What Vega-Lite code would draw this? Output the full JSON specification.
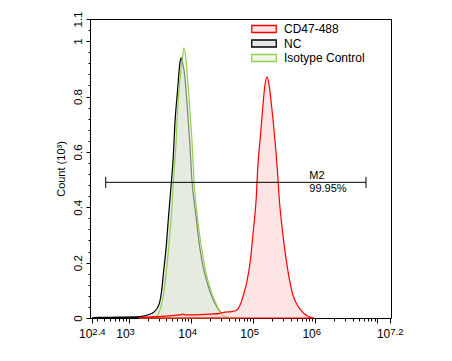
{
  "$schema": "https://vega.github.io/schema/vega-lite/v6.json",
  "width": 301,
  "height": 299,
  "autosize": "none",
  "padding": {"left": 90, "top": 19, "right": 61, "bottom": 43},
  "config": {
    "view": {"stroke": "#000000", "strokeWidth": 1},
    "font": "Liberation Sans",
    "axis": {"domain": false, "grid": false, "tickColor": "#000000", "labelColor": "#000000", "titleColor": "#000000", "labelFlush": false, "labelOverlap": false}
  },
  "datasets": {
    "hist": [
      {"s": "NC", "x": 260, "y": 0.001},
      {"s": "NC", "x": 325, "y": 0.002},
      {"s": "NC", "x": 687, "y": 0.003},
      {"s": "NC", "x": 1455, "y": 0.005},
      {"s": "NC", "x": 1986, "y": 0.011},
      {"s": "NC", "x": 2553, "y": 0.023},
      {"s": "NC", "x": 3076, "y": 0.053},
      {"s": "NC", "x": 3350, "y": 0.101},
      {"s": "NC", "x": 3573, "y": 0.161},
      {"s": "NC", "x": 3954, "y": 0.256},
      {"s": "NC", "x": 4355, "y": 0.377},
      {"s": "NC", "x": 4819, "y": 0.496},
      {"s": "NC", "x": 5140, "y": 0.58},
      {"s": "NC", "x": 5458, "y": 0.7},
      {"s": "NC", "x": 6026, "y": 0.82},
      {"s": "NC", "x": 6577, "y": 0.921},
      {"s": "NC", "x": 6934, "y": 0.94},
      {"s": "NC", "x": 7362, "y": 0.916},
      {"s": "NC", "x": 7834, "y": 0.88},
      {"s": "NC", "x": 8670, "y": 0.76},
      {"s": "NC", "x": 9462, "y": 0.64},
      {"s": "NC", "x": 10304, "y": 0.496},
      {"s": "NC", "x": 11830, "y": 0.377},
      {"s": "NC", "x": 13740, "y": 0.256},
      {"s": "NC", "x": 15560, "y": 0.185},
      {"s": "NC", "x": 17660, "y": 0.137},
      {"s": "NC", "x": 20510, "y": 0.089},
      {"s": "NC", "x": 24100, "y": 0.053},
      {"s": "NC", "x": 29040, "y": 0.023},
      {"s": "NC", "x": 35070, "y": 0.005},
      {"s": "NC", "x": 45600, "y": 0},
      {"s": "Isotype Control", "x": 1455, "y": 0},
      {"s": "Isotype Control", "x": 2113, "y": 0.002},
      {"s": "Isotype Control", "x": 2716, "y": 0.005},
      {"s": "Isotype Control", "x": 2992, "y": 0.017},
      {"s": "Isotype Control", "x": 3273, "y": 0.041},
      {"s": "Isotype Control", "x": 3614, "y": 0.089},
      {"s": "Isotype Control", "x": 3954, "y": 0.161},
      {"s": "Isotype Control", "x": 4355, "y": 0.256},
      {"s": "Isotype Control", "x": 4819, "y": 0.377},
      {"s": "Isotype Control", "x": 5188, "y": 0.496},
      {"s": "Isotype Control", "x": 5741, "y": 0.64},
      {"s": "Isotype Control", "x": 6095, "y": 0.76},
      {"s": "Isotype Control", "x": 6745, "y": 0.88},
      {"s": "Isotype Control", "x": 7278, "y": 0.946},
      {"s": "Isotype Control", "x": 7638, "y": 0.976},
      {"s": "Isotype Control", "x": 8147, "y": 0.946},
      {"s": "Isotype Control", "x": 8670, "y": 0.88},
      {"s": "Isotype Control", "x": 9462, "y": 0.76},
      {"s": "Isotype Control", "x": 10304, "y": 0.64},
      {"s": "Isotype Control", "x": 11117, "y": 0.496},
      {"s": "Isotype Control", "x": 12417, "y": 0.377},
      {"s": "Isotype Control", "x": 14655, "y": 0.256},
      {"s": "Isotype Control", "x": 16596, "y": 0.185},
      {"s": "Isotype Control", "x": 18535, "y": 0.137},
      {"s": "Isotype Control", "x": 21528, "y": 0.089},
      {"s": "Isotype Control", "x": 25003, "y": 0.053},
      {"s": "Isotype Control", "x": 29040, "y": 0.023},
      {"s": "Isotype Control", "x": 35070, "y": 0.005},
      {"s": "Isotype Control", "x": 42270, "y": 0.001},
      {"s": "Isotype Control", "x": 60000, "y": 0},
      {"s": "CD47-488", "x": 1455, "y": 0.001},
      {"s": "CD47-488", "x": 2716, "y": 0.005},
      {"s": "CD47-488", "x": 4467, "y": 0.008},
      {"s": "CD47-488", "x": 6501, "y": 0.011},
      {"s": "CD47-488", "x": 7362, "y": 0.014},
      {"s": "CD47-488", "x": 8147, "y": 0.011},
      {"s": "CD47-488", "x": 13740, "y": 0.012},
      {"s": "CD47-488", "x": 20000, "y": 0.014},
      {"s": "CD47-488", "x": 29040, "y": 0.017},
      {"s": "CD47-488", "x": 35070, "y": 0.021},
      {"s": "CD47-488", "x": 45080, "y": 0.023},
      {"s": "CD47-488", "x": 54330, "y": 0.029},
      {"s": "CD47-488", "x": 63100, "y": 0.053},
      {"s": "CD47-488", "x": 69500, "y": 0.083},
      {"s": "CD47-488", "x": 79070, "y": 0.131},
      {"s": "CD47-488", "x": 89330, "y": 0.203},
      {"s": "CD47-488", "x": 101160, "y": 0.323},
      {"s": "CD47-488", "x": 111940, "y": 0.435},
      {"s": "CD47-488", "x": 117490, "y": 0.532},
      {"s": "CD47-488", "x": 130020, "y": 0.652},
      {"s": "CD47-488", "x": 143880, "y": 0.772},
      {"s": "CD47-488", "x": 153810, "y": 0.838},
      {"s": "CD47-488", "x": 167110, "y": 0.871},
      {"s": "CD47-488", "x": 179890, "y": 0.842},
      {"s": "CD47-488", "x": 196340, "y": 0.772},
      {"s": "CD47-488", "x": 221820, "y": 0.652},
      {"s": "CD47-488", "x": 245470, "y": 0.532},
      {"s": "CD47-488", "x": 261820, "y": 0.435},
      {"s": "CD47-488", "x": 293090, "y": 0.323},
      {"s": "CD47-488", "x": 344350, "y": 0.203},
      {"s": "CD47-488", "x": 389050, "y": 0.131},
      {"s": "CD47-488", "x": 435510, "y": 0.083},
      {"s": "CD47-488", "x": 494310, "y": 0.053},
      {"s": "CD47-488", "x": 580760, "y": 0.029},
      {"s": "CD47-488", "x": 701460, "y": 0.011},
      {"s": "CD47-488", "x": 954990, "y": 0}
    ],
    "marker": [{"x": 420, "x2": 6560000, "y": 0.49}],
    "caps": [
      {"x": 420, "y": 0.47, "y2": 0.51},
      {"x": 6560000, "y": 0.47, "y2": 0.51}
    ],
    "mlabel": [{"x": 800000, "y": 0.49, "name": "M2", "pct": "99.95%"}]
  },
  "layer": [
    {
      "data": {"name": "hist"},
      "mark": {"type": "area", "interpolate": "monotone", "strokeWidth": 1.2, "fillOpacity": 0.55},
      "encoding": {
        "x": {
          "field": "x", "type": "quantitative",
          "scale": {"type": "log", "domain": [234.4, 16595869]},
          "axis": {
            "orient": "bottom", "title": null,
            "values": [251.19, 1000, 10000, 100000, 1000000, 10000000, 15848932],
            "labelExpr": "datum.value > 5000000 && datum.value < 12000000 ? '' : '10'",
            "tickSize": 5, "labelFontSize": 12, "labelAlign": "right", "labelBaseline": "alphabetic", "labelPadding": 14,
            "encode": {"labels": {"update": {"dx": {"signal": "datum.value < 500 || datum.value > 12000000 ? 0.7 : 3.3"}}}}
          }
        },
        "y": {
          "field": "y", "type": "quantitative", "stack": null,
          "scale": {"domain": [0, 1.08]},
          "axis": {
            "orient": "left",
            "values": [0, 0.2, 0.4, 0.6, 0.8, 1, 1.08],
            "labelExpr": "datum.value > 1.05 ? '1.1' : datum.value == 0 ? '0' : datum.value == 1 ? '1' : format(datum.value, '.1f')",
            "labelAngle": 270, "labelAlign": "center", "labelBaseline": "bottom", "labelFontSize": 11.5, "tickSize": 4, "labelPadding": 3,
            "title": "Count (10³)", "titleFontSize": 11, "titleFontWeight": "normal", "titlePadding": 6
          }
        },
        "fill": {
          "field": "s", "type": "nominal",
          "scale": {"domain": ["CD47-488", "NC", "Isotype Control"], "range": ["#ffd0d0", "#d3d3d3", "#e3f0d8"]},
          "legend": {"orient": "none", "legendX": 168, "legendY": 4, "title": null, "symbolType": "M-3.5,-1H3.5V1H-3.5Z", "symbolSize": 49, "symbolStrokeWidth": 1.3, "labelFontSize": 12, "labelOffset": 14, "rowPadding": 0.5, "padding": 0, "labelColor": "#000000", "encode": {"symbols": {"update": {"fillOpacity": {"value": 0.55}}}}}
        },
        "stroke": {
          "field": "s", "type": "nominal",
          "scale": {"domain": ["CD47-488", "NC", "Isotype Control"], "range": ["#ff0000", "#000000", "#92d050"]},
          "legend": {"orient": "none", "legendX": 168, "legendY": 4, "title": null, "symbolType": "M-3.5,-1H3.5V1H-3.5Z", "symbolSize": 49, "symbolStrokeWidth": 1.3, "labelFontSize": 12, "labelOffset": 14, "rowPadding": 0.5, "padding": 0, "labelColor": "#000000", "encode": {"symbols": {"update": {"fillOpacity": {"value": 0.55}}}}}
        }
      }
    },
    {
      "data": {"name": "marker"},
      "mark": {"type": "rule", "color": "#000000", "strokeWidth": 1},
      "encoding": {
        "x": {
          "field": "x", "type": "quantitative",
          "scale": {"type": "log", "domain": [234.4, 16595869]},
          "axis": {
            "orient": "bottom", "title": null,
            "values": [251.19, 1000, 10000, 100000, 1000000, 10000000, 15848932],
            "labelExpr": "datum.value < 500 ? '2.4' : datum.value > 12000000 ? '7.2' : datum.value > 5000000 ? '' : format(log(datum.value) / LN10, '.0f')",
            "ticks": false, "labelFontSize": 9.5, "labelAlign": "left", "labelBaseline": "alphabetic", "labelPadding": 16,
            "encode": {"labels": {"update": {"dx": {"signal": "datum.value < 500 || datum.value > 12000000 ? 1.7 : 4.3"}}}}
          }
        },
        "x2": {"field": "x2"},
        "y": {
          "field": "y", "type": "quantitative",
          "scale": {"domain": [0, 1.08]},
          "axis": {
            "orient": "left", "title": null, "labels": false, "tickSize": 2,
            "values": [0.04, 0.08, 0.12, 0.16, 0.24, 0.28, 0.32, 0.36, 0.44, 0.48, 0.52, 0.56, 0.64, 0.68, 0.72, 0.76, 0.84, 0.88, 0.92, 0.96, 1.04]
          }
        }
      }
    },
    {
      "data": {"name": "caps"},
      "mark": {"type": "rule", "color": "#000000", "strokeWidth": 1},
      "encoding": {
        "x": {
          "field": "x", "type": "quantitative",
          "scale": {"type": "log", "domain": [234.4, 16595869]},
          "axis": {
            "orient": "bottom", "title": null, "labels": false, "tickSize": 3,
            "values": [300, 400, 500, 600, 700, 800, 900, 2000, 3000, 4000, 5000, 6000, 7000, 8000, 9000, 20000, 30000, 40000, 50000, 60000, 70000, 80000, 90000, 200000, 300000, 400000, 500000, 600000, 700000, 800000, 900000, 2000000, 3000000, 4000000, 5000000, 6000000, 7000000, 8000000, 9000000]
          }
        },
        "y": {"field": "y", "type": "quantitative", "scale": {"domain": [0, 1.08]}, "axis": null},
        "y2": {"field": "y2"}
      }
    },
    {
      "data": {"name": "mlabel"},
      "mark": {"type": "text", "align": "left", "baseline": "alphabetic", "dy": -3, "fontSize": 11, "color": "#000000"},
      "encoding": {
        "x": {"field": "x", "type": "quantitative", "scale": {"type": "log", "domain": [234.4, 16595869]}, "axis": null},
        "y": {"field": "y", "type": "quantitative", "scale": {"domain": [0, 1.08]}, "axis": null},
        "text": {"field": "name"}
      }
    },
    {
      "data": {"name": "mlabel"},
      "mark": {"type": "text", "align": "left", "baseline": "alphabetic", "dy": 9.5, "fontSize": 11, "color": "#000000"},
      "encoding": {
        "x": {"field": "x", "type": "quantitative", "scale": {"type": "log", "domain": [234.4, 16595869]}, "axis": null},
        "y": {"field": "y", "type": "quantitative", "scale": {"domain": [0, 1.08]}, "axis": null},
        "text": {"field": "pct"}
      }
    }
  ],
  "resolve": {"axis": {"x": "independent", "y": "independent"}}
}
